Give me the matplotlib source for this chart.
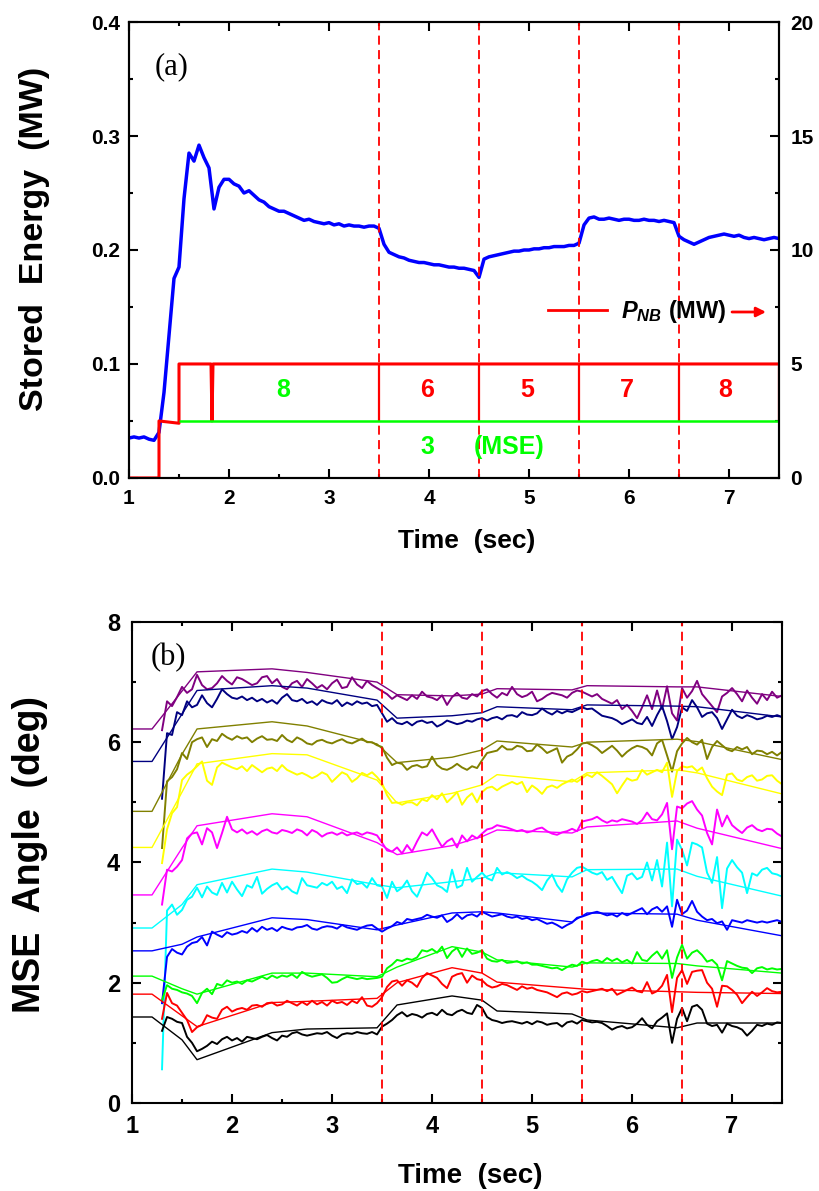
import numpy as np
import matplotlib
matplotlib.use('Agg')
import matplotlib.pyplot as plt
from matplotlib.ticker import MultipleLocator, FormatStrFormatter
from matplotlib.lines import Line2D

plt.rcParams['font.family'] = ['Liberation Sans', 'DejaVu Sans']
plt.rcParams['font.weight'] = 'bold'
plt.rcParams['mathtext.fontset'] = 'custom'
plt.rcParams['mathtext.rm'] = 'Liberation Sans:bold'
plt.rcParams['mathtext.it'] = 'Liberation Sans:italic:bold'
plt.rcParams['mathtext.bf'] = 'Liberation Sans:bold'
plt.rcParams['mathtext.bfit'] = 'Liberation Sans:italic:bold'

# ---- panel (a): stored energy and beam power ----
t_we = np.round(np.arange(1.0, 7.501, 0.05), 2)  # 50 ms samples
w_stored = [0.035, 0.036, 0.035, 0.036, 0.034, 0.033, 0.040, 0.075, 0.125, 0.175,
            0.185, 0.245, 0.285, 0.278, 0.292, 0.281, 0.272, 0.236, 0.255, 0.262,
            0.262, 0.258, 0.256, 0.250, 0.252, 0.248, 0.244, 0.242, 0.238, 0.236,
            0.234, 0.234, 0.232, 0.230, 0.228, 0.226, 0.227, 0.225, 0.224, 0.223,
            0.224, 0.222, 0.223, 0.221, 0.222, 0.221, 0.221, 0.220, 0.221, 0.221,
            0.219, 0.205, 0.198, 0.196, 0.194, 0.193, 0.191, 0.190, 0.189, 0.189,
            0.188, 0.187, 0.187, 0.186, 0.185, 0.185, 0.184, 0.184, 0.183, 0.182,
            0.176, 0.192, 0.194, 0.195, 0.196, 0.197, 0.198, 0.199, 0.199, 0.200,
            0.200, 0.201, 0.201, 0.202, 0.202, 0.203, 0.203, 0.203, 0.204, 0.204,
            0.206, 0.222, 0.228, 0.229, 0.227, 0.227, 0.228, 0.227, 0.226, 0.227,
            0.227, 0.226, 0.226, 0.227, 0.226, 0.226, 0.225, 0.226, 0.225, 0.224,
            0.212, 0.209, 0.207, 0.205, 0.207, 0.209, 0.211, 0.212, 0.213, 0.214,
            0.213, 0.212, 0.213, 0.211, 0.210, 0.211, 0.210, 0.209, 0.210, 0.211,
            0.210]

t_pnb = [1.0, 1.3, 1.3, 1.5, 1.5, 1.82, 1.83, 1.84, 7.5]
p_nb = [0, 0, 2.5, 2.4, 5, 5, 2.5, 5, 5]
mse_power = 2.5
mse_on = 1.5
box_edges = [3.5, 4.5, 5.5, 6.5, 7.5]
switch_times = [3.5, 4.5, 5.5, 6.5]
n_sources = ['8', '6', '5', '7', '8']
n_sources_t = [2.54, 3.98, 4.98, 5.98, 6.96]
n_sources_col = ['#00FF00', '#FF0000', '#FF0000', '#FF0000', '#FF0000']

# ---- panel (b): MSE pitch angles, fits and measurements ----
t_fit = [1.0, 1.2, 1.5, 1.65, 2.4, 2.75, 3.45, 3.65, 4.2, 4.5, 4.65, 5.4, 5.55, 6.45, 6.65, 7.5]
fit_purple = [6.22, 6.22, 6.85, 7.17, 7.22, 7.16, 7.00, 6.79, 6.77, 6.80, 6.89, 6.87, 6.94, 6.92, 6.92, 6.76]
fit_navy = [5.68, 5.68, 6.47, 6.86, 6.94, 6.90, 6.70, 6.40, 6.44, 6.49, 6.59, 6.54, 6.62, 6.60, 6.59, 6.42]
fit_olive = [4.85, 4.85, 5.80, 6.22, 6.34, 6.27, 5.97, 5.66, 5.75, 5.87, 6.02, 5.92, 6.00, 6.05, 6.01, 5.71]
fit_yellow = [4.25, 4.25, 5.17, 5.64, 5.81, 5.79, 5.37, 4.99, 5.15, 5.29, 5.46, 5.34, 5.49, 5.54, 5.49, 5.14]
fit_magenta = [3.46, 3.46, 4.24, 4.61, 4.81, 4.76, 4.33, 4.13, 4.28, 4.43, 4.54, 4.49, 4.59, 4.69, 4.57, 4.23]
fit_cyan = [2.91, 2.91, 3.30, 3.63, 3.89, 3.84, 3.63, 3.58, 3.68, 3.74, 3.83, 3.76, 3.88, 3.89, 3.77, 3.44]
fit_blue = [2.53, 2.53, 2.64, 2.76, 3.08, 3.05, 2.88, 2.96, 3.16, 3.18, 3.16, 3.01, 3.16, 3.14, 3.04, 2.78]
fit_green = [2.11, 2.11, 1.90, 1.81, 2.16, 2.16, 2.10, 2.26, 2.60, 2.51, 2.38, 2.26, 2.33, 2.32, 2.28, 2.16]
fit_red = [1.81, 1.81, 1.45, 1.27, 1.67, 1.69, 1.74, 2.00, 2.25, 2.16, 2.01, 1.91, 1.89, 1.85, 1.84, 1.82]
fit_black = [1.43, 1.43, 1.05, 0.72, 1.17, 1.23, 1.25, 1.63, 1.78, 1.71, 1.53, 1.48, 1.38, 1.25, 1.33, 1.33]

t_mse = np.round(np.arange(1.30, 7.501, 0.05), 2)  # 50 ms samples
mse_purple = [6.20, 6.68, 6.60, 6.75, 6.92, 6.82, 6.88, 7.12, 6.95, 6.88,
              6.90, 6.98, 7.10, 7.02, 6.96, 7.08, 7.05, 7.00, 6.95, 6.98,
              7.08, 7.10, 6.98, 7.05, 6.92, 6.88, 6.98, 7.02, 6.92, 7.05,
              6.98, 6.90, 6.95, 6.88, 6.98, 7.04, 6.90, 6.92, 7.08, 6.96,
              6.90, 7.02, 6.95, 6.90, 6.85, 6.80, 6.72, 6.78, 6.74, 6.70,
              6.78, 6.72, 6.84, 6.76, 6.74, 6.70, 6.78, 6.62, 6.75, 6.82,
              6.74, 6.72, 6.80, 6.76, 6.85, 6.88, 6.80, 6.74, 6.82, 6.78,
              6.92, 6.80, 6.75, 6.78, 6.84, 6.68, 6.72, 6.78, 6.82, 6.80,
              6.78, 6.74, 6.82, 6.86, 6.84, 6.80, 6.76, 6.80, 6.72, 6.68,
              6.64, 6.70, 6.55, 6.62, 6.52, 6.40, 6.58, 6.78, 6.55, 6.86,
              6.55, 6.93, 6.48, 6.36, 6.90, 6.74, 6.85, 7.02, 6.80, 6.70,
              6.60, 6.50, 6.76, 6.82, 6.90, 6.80, 6.68, 6.86, 6.74, 6.64,
              6.80, 6.70, 6.84, 6.74, 6.78]
mse_navy = [5.06, 6.15, 6.12, 6.50, 6.45, 6.68, 6.58, 6.62, 6.78, 6.65,
            6.58, 6.72, 6.88, 6.80, 6.74, 6.72, 6.76, 6.70, 6.74, 6.68,
            6.72, 6.66, 6.70, 6.64, 6.74, 6.80, 6.70, 6.68, 6.72, 6.65,
            6.68, 6.62, 6.70, 6.66, 6.64, 6.70, 6.60, 6.66, 6.62, 6.68,
            6.64, 6.66, 6.60, 6.62, 6.48, 6.34, 6.40, 6.32, 6.30, 6.34,
            6.28, 6.34, 6.36, 6.32, 6.34, 6.26, 6.30, 6.36, 6.33, 6.30,
            6.32, 6.36, 6.34, 6.38, 6.40, 6.36, 6.40, 6.42, 6.38, 6.44,
            6.45, 6.42, 6.50, 6.46, 6.45, 6.48, 6.56, 6.50, 6.46, 6.52,
            6.48, 6.52, 6.50, 6.54, 6.58, 6.55, 6.56, 6.50, 6.44, 6.42,
            6.40, 6.36, 6.30, 6.34, 6.38, 6.32, 6.30, 6.42, 6.27, 6.45,
            6.60, 6.35, 6.05, 6.25, 6.58, 6.52, 6.70, 6.58, 6.42, 6.48,
            6.50, 6.40, 6.22, 6.38, 6.54, 6.44, 6.40, 6.45, 6.42, 6.38,
            6.40, 6.44, 6.42, 6.45, 6.42]
mse_olive = [4.24, 5.35, 5.42, 5.55, 5.82, 5.72, 6.00, 6.05, 6.08, 5.92,
             6.05, 6.02, 6.14, 6.08, 6.04, 6.10, 6.06, 6.08, 6.00, 6.06,
             6.10, 6.04, 6.05, 6.02, 6.12, 6.04, 6.00, 6.08, 6.04, 5.98,
             5.96, 6.02, 6.04, 6.00, 5.98, 6.02, 6.05, 6.00, 5.98, 6.02,
             6.06, 6.00, 6.00, 5.95, 5.92, 5.74, 5.62, 5.66, 5.64, 5.54,
             5.60, 5.62, 5.58, 5.60, 5.76, 5.62, 5.56, 5.54, 5.58, 5.64,
             5.58, 5.54, 5.60, 5.57, 5.70, 5.82, 5.84, 5.86, 5.94, 5.88,
             5.88, 5.94, 5.92, 5.85, 5.86, 5.96, 5.90, 5.82, 5.86, 5.90,
             5.66, 5.76, 5.80, 5.88, 5.98, 5.99, 5.95, 5.90, 5.82, 5.88,
             5.94, 5.86, 5.76, 5.84, 5.90, 5.94, 5.92, 5.88, 5.78, 5.98,
             6.04, 5.78, 5.51, 5.85, 5.98, 6.07, 6.00, 5.96, 6.04, 5.72,
             5.92, 6.02, 5.95, 5.88, 5.85, 5.92, 5.88, 5.92, 5.80, 5.86,
             5.85, 5.80, 5.84, 5.78, 5.84]
mse_yellow = [3.99, 4.55, 4.82, 4.92, 5.37, 5.46, 5.52, 5.60, 5.68, 5.36,
              5.29, 5.58, 5.66, 5.62, 5.58, 5.55, 5.60, 5.52, 5.62, 5.56,
              5.50, 5.56, 5.58, 5.52, 5.62, 5.54, 5.50, 5.46, 5.49, 5.45,
              5.40, 5.44, 5.50, 5.46, 5.34, 5.42, 5.50, 5.46, 5.34, 5.40,
              5.49, 5.45, 5.50, 5.42, 5.32, 5.12, 4.99, 5.00, 4.96, 5.00,
              5.00, 4.95, 5.05, 5.02, 5.12, 5.05, 5.15, 5.00, 5.08, 5.17,
              4.96, 5.08, 5.15, 5.00, 5.17, 5.24, 5.26, 5.20, 5.26, 5.30,
              5.34, 5.30, 5.34, 5.17, 5.28, 5.22, 5.14, 5.25, 5.28, 5.24,
              5.30, 5.34, 5.38, 5.34, 5.40, 5.46, 5.42, 5.50, 5.44, 5.37,
              5.30, 5.15, 5.28, 5.40, 5.36, 5.38, 5.54, 5.46, 5.50, 5.54,
              5.50, 5.66, 5.09, 5.52, 5.60, 5.58, 5.60, 5.52, 5.58, 5.40,
              5.26, 5.18, 5.12, 5.46, 5.48, 5.38, 5.35, 5.42, 5.45, 5.36,
              5.38, 5.44, 5.45, 5.36, 5.30]
mse_magenta = [3.30, 3.88, 3.85, 3.93, 4.04, 4.40, 4.48, 4.50, 4.30, 4.57,
               4.50, 4.24, 4.49, 4.76, 4.55, 4.50, 4.55, 4.48, 4.52, 4.46,
               4.52, 4.55, 4.50, 4.48, 4.54, 4.52, 4.49, 4.55, 4.52, 4.45,
               4.54, 4.50, 4.43, 4.48, 4.50, 4.46, 4.50, 4.45, 4.48, 4.50,
               4.46, 4.50, 4.48, 4.45, 4.33, 4.20, 4.18, 4.25, 4.15, 4.29,
               4.18, 4.35, 4.50, 4.45, 4.55, 4.40, 4.26, 4.35, 4.40, 4.25,
               4.45, 4.35, 4.45, 4.40, 4.48, 4.55, 4.57, 4.62, 4.60, 4.58,
               4.55, 4.52, 4.54, 4.50, 4.52, 4.56, 4.58, 4.52, 4.48, 4.46,
               4.50, 4.52, 4.56, 4.52, 4.68, 4.70, 4.72, 4.76, 4.70, 4.66,
               4.70, 4.68, 4.72, 4.70, 4.68, 4.64, 4.70, 4.83, 4.72, 4.70,
               4.80, 4.99, 4.22, 4.93, 4.90, 4.98, 5.02, 4.88, 4.78, 4.49,
               4.30, 4.88, 4.60, 4.78, 4.62, 4.55, 4.49, 4.58, 4.62, 4.55,
               4.52, 4.56, 4.55, 4.48, 4.43]
mse_cyan = [0.56, 3.20, 3.30, 3.13, 3.21, 3.38, 3.43, 3.58, 3.42, 3.60,
            3.50, 3.46, 3.66, 3.50, 3.68, 3.55, 3.44, 3.62, 3.58, 3.76,
            3.48, 3.56, 3.62, 3.66, 3.55, 3.60, 3.52, 3.48, 3.74, 3.62,
            3.60, 3.58, 3.66, 3.62, 3.68, 3.56, 3.60, 3.49, 3.72, 3.64,
            3.66, 3.58, 3.74, 3.62, 3.60, 3.41, 3.68, 3.52, 3.58, 3.70,
            3.52, 3.43, 3.62, 3.83, 3.74, 3.62, 3.58, 3.51, 3.88, 3.58,
            3.62, 3.91, 3.68, 3.76, 3.83, 3.74, 3.70, 3.91, 3.80, 3.84,
            3.80, 3.74, 3.78, 3.72, 3.68, 3.62, 3.54, 3.70, 3.80, 3.62,
            3.51, 3.72, 3.83, 3.91, 3.93, 3.88, 3.83, 3.80, 3.84, 3.71,
            3.76, 3.62, 3.49, 3.78, 3.82, 3.72, 3.76, 4.00, 3.70, 4.04,
            3.60, 4.33, 3.27, 4.38, 4.21, 3.95, 4.33, 4.30, 4.25, 3.83,
            3.66, 4.09, 3.24, 3.90, 4.04, 3.92, 3.83, 3.49, 3.82, 3.78,
            3.88, 3.91, 3.82, 3.80, 3.76]
mse_blue = [1.66, 2.43, 2.56, 2.50, 2.47, 2.60, 2.66, 2.68, 2.76, 2.62,
            2.85, 2.80, 2.76, 2.84, 2.80, 2.82, 2.86, 2.83, 2.91, 2.85,
            2.93, 2.88, 2.91, 2.86, 2.93, 2.90, 2.88, 2.92, 2.93, 2.96,
            2.90, 2.88, 2.92, 2.94, 2.93, 2.90, 2.96, 2.92, 2.90, 2.88,
            2.92, 2.95, 2.96, 2.90, 2.85, 2.90, 2.94, 3.01, 2.98, 3.06,
            3.04, 3.06, 3.08, 3.13, 3.10, 3.08, 3.12, 3.01, 3.06, 3.14,
            3.06, 3.12, 3.14, 3.10, 3.18, 3.14, 3.10, 3.12, 3.14, 3.10,
            3.08, 3.10, 3.06, 3.08, 3.04, 3.06, 3.02, 2.98, 3.00, 2.96,
            2.91, 2.96, 3.00, 3.08, 3.10, 3.13, 3.16, 3.18, 3.15, 3.12,
            3.14, 3.10, 3.16, 3.12, 3.16, 3.20, 3.24, 3.14, 3.22, 3.26,
            3.18, 3.27, 2.93, 3.38, 3.14, 3.20, 3.36, 3.18, 3.10, 3.04,
            3.06, 2.99, 3.02, 2.88, 3.04, 3.02, 3.00, 3.04, 3.02, 3.00,
            3.02, 3.00, 3.02, 3.04, 3.01]
mse_green = [1.71, 1.96, 1.90, 1.88, 1.84, 1.82, 1.78, 1.66, 1.83, 1.90,
             1.81, 1.98, 1.95, 2.04, 2.00, 2.02, 1.98, 2.04, 2.02, 2.06,
             2.10, 2.06, 2.12, 2.08, 2.12, 2.10, 2.14, 2.08, 2.18, 2.13,
             2.10, 2.12, 2.14, 2.08, 2.00, 2.01, 2.06, 2.10, 2.08, 2.06,
             2.08, 2.06, 2.07, 2.08, 2.10, 2.24, 2.30, 2.38, 2.36, 2.40,
             2.38, 2.42, 2.54, 2.52, 2.56, 2.50, 2.60, 2.41, 2.52, 2.58,
             2.43, 2.57, 2.48, 2.50, 2.54, 2.40, 2.36, 2.35, 2.38, 2.33,
             2.34, 2.36, 2.32, 2.34, 2.30, 2.30, 2.28, 2.26, 2.24, 2.25,
             2.21, 2.26, 2.30, 2.28, 2.35, 2.32, 2.36, 2.38, 2.34, 2.41,
             2.36, 2.40, 2.34, 2.38, 2.32, 2.51, 2.38, 2.36, 2.45, 2.52,
             2.40, 2.54, 2.08, 2.42, 2.63, 2.40, 2.50, 2.54, 2.46, 2.35,
             2.38, 2.30, 2.04, 2.36, 2.32, 2.28, 2.25, 2.24, 2.16, 2.24,
             2.26, 2.22, 2.24, 2.22, 2.23]
mse_red = [1.40, 1.83, 1.66, 1.62, 1.50, 1.38, 1.18, 1.26, 1.30, 1.46,
           1.42, 1.40, 1.55, 1.60, 1.52, 1.56, 1.58, 1.55, 1.62, 1.63,
           1.60, 1.66, 1.67, 1.62, 1.64, 1.70, 1.66, 1.62, 1.68, 1.63,
           1.70, 1.64, 1.68, 1.62, 1.70, 1.66, 1.68, 1.63, 1.70, 1.66,
           1.76, 1.62, 1.60, 1.66, 1.76, 1.93, 2.02, 2.04, 1.95, 2.04,
           2.00, 1.93, 2.08, 2.16, 2.12, 2.08, 1.98, 1.91, 2.10, 2.14,
           2.16, 2.00, 2.12, 2.06, 2.04, 1.96, 1.92, 1.94, 1.98, 1.96,
           1.92, 1.88, 1.94, 1.90, 1.92, 1.88, 1.86, 1.84, 1.80, 1.76,
           1.82, 1.84, 1.80, 1.82, 1.86, 1.84, 1.86, 1.88, 1.90, 1.86,
           1.90, 1.80, 1.84, 1.88, 1.92, 1.86, 1.84, 2.01, 1.82, 1.86,
           1.95, 2.13, 1.51, 2.08, 2.21, 1.98, 2.18, 2.20, 2.21, 2.00,
           1.90, 1.60, 1.95, 1.94, 1.88, 1.80, 1.66, 1.76, 1.85, 1.78,
           1.84, 1.91, 1.86, 1.84, 1.85]
mse_black = [1.20, 1.43, 1.40, 1.35, 1.33, 1.10, 1.00, 0.86, 0.90, 0.95,
             1.02, 0.98, 1.06, 1.10, 1.04, 1.08, 1.02, 1.10, 1.08, 1.06,
             1.10, 1.13, 1.08, 1.04, 1.12, 1.10, 1.16, 1.18, 1.14, 1.12,
             1.14, 1.16, 1.15, 1.18, 1.12, 1.08, 1.14, 1.16, 1.15, 1.18,
             1.16, 1.15, 1.18, 1.14, 1.27, 1.32, 1.38, 1.46, 1.51, 1.44,
             1.48, 1.46, 1.42, 1.48, 1.50, 1.46, 1.55, 1.48, 1.46, 1.52,
             1.55, 1.50, 1.48, 1.63, 1.58, 1.43, 1.38, 1.36, 1.33, 1.35,
             1.36, 1.34, 1.32, 1.35, 1.31, 1.36, 1.34, 1.30, 1.32, 1.33,
             1.27, 1.34, 1.36, 1.32, 1.38, 1.36, 1.34, 1.35, 1.33, 1.28,
             1.22, 1.26, 1.28, 1.24, 1.26, 1.32, 1.41, 1.30, 1.24, 1.36,
             1.42, 1.49, 1.00, 1.40, 1.58, 1.36, 1.60, 1.63, 1.55, 1.32,
             1.28, 1.30, 1.17, 1.32, 1.28, 1.26, 1.22, 1.12, 1.20, 1.30,
             1.28, 1.32, 1.30, 1.34, 1.33]

channels = [('#800080', fit_purple, mse_purple),
            ('#000080', fit_navy, mse_navy),
            ('#808000', fit_olive, mse_olive),
            ('#FFFF00', fit_yellow, mse_yellow),
            ('#FF00FF', fit_magenta, mse_magenta),
            ('#00FFFF', fit_cyan, mse_cyan),
            ('#0000FF', fit_blue, mse_blue),
            ('#00FF00', fit_green, mse_green),
            ('#FF0000', fit_red, mse_red),
            ('#000000', fit_black, mse_black)]

dash = (0, (5, 3))
fig = plt.figure(figsize=(8.19, 11.91), dpi=100)

# ================= (a) =================
ax1 = fig.add_axes([0.1575, 0.5987, 0.7937, 0.3828])
ax2 = ax1.twinx()
ax1.plot(t_we, w_stored, color='#0000FF', lw=2.5)
for t in switch_times:
    ax1.axvline(t, color='#FF0000', ls=dash, lw=1.3)
ax2.plot(t_pnb, p_nb, color='#FF0000', lw=2.2)
ax2.vlines(box_edges, mse_power, 5, color='#FF0000', lw=1.6)
ax2.hlines(mse_power, mse_on, 7.5, color='#00FF00', lw=1.8)

for s, t, c in zip(n_sources, n_sources_t, n_sources_col):
    ax2.text(t, 3.86, s, color=c, fontsize=18, ha='center', va='center')
ax2.text(3.98, 1.36, '3', color='#00FF00', fontsize=18, ha='center', va='center')
ax2.text(4.80, 1.36, '(MSE)', color='#00FF00', fontsize=18, ha='center', va='center')

h = Line2D([], [], color='#FF0000', lw=2)
ax2.legend([h], [r'$\mathbfit{P}_{\mathbfit{NB}}$ (MW)'], loc='center left',
           bbox_to_anchor=(0.645, 0.364), frameon=False, fontsize=17,
           handlelength=2.5, handletextpad=0.6, borderpad=0, borderaxespad=0)
ax2.annotate('', xy=(7.37, 7.28), xytext=(7.03, 7.28),
             arrowprops=dict(arrowstyle='-|>', color='#FF0000', lw=2,
                             mutation_scale=14, shrinkA=0, shrinkB=0))

ax1.set_xlim(1, 7.5)
ax1.set_ylim(0, 0.4)
ax2.set_ylim(0, 20)
ax1.xaxis.set_major_locator(MultipleLocator(1))
ax1.xaxis.set_minor_locator(MultipleLocator(0.5))
ax1.yaxis.set_major_locator(MultipleLocator(0.1))
ax1.yaxis.set_minor_locator(MultipleLocator(0.05))
ax1.yaxis.set_major_formatter(FormatStrFormatter('%.1f'))
ax2.yaxis.set_major_locator(MultipleLocator(5))
ax2.yaxis.set_minor_locator(MultipleLocator(2.5))
ax1.tick_params(which='both', direction='in', top=True, right=False, width=1.5, labelsize=15)
ax1.tick_params(axis='x', which='major', pad=8)
ax1.tick_params(axis='y', which='major', pad=6.5)
ax1.tick_params(which='major', length=6.5)
ax1.tick_params(which='minor', length=3)
ax2.tick_params(which='both', direction='in', width=1.5, labelsize=15)
ax2.tick_params(which='major', length=6.5, pad=8)
ax2.tick_params(which='minor', length=3)
for sp in ax1.spines.values():
    sp.set_linewidth(1.5)
for sp in ax2.spines.values():
    sp.set_linewidth(1.5)

ax1.set_xlabel('Time  (sec)', fontsize=19, fontweight='bold', va='center')
ax1.xaxis.set_label_coords(0.52, -0.138)
ax1.set_ylabel('Stored  Energy  (MW)', fontsize=24.5, fontweight='bold', va='center')
ax1.yaxis.set_label_coords(-0.145, 0.524)
ax1.text(0.04, 0.903, '(a)', transform=ax1.transAxes, fontsize=22, fontweight='normal',
         family=['Liberation Serif', 'DejaVu Serif'], va='center')

# ================= (b) =================
ax3 = fig.add_axes([0.1612, 0.0739, 0.7937, 0.4039])
for c, fit, meas in channels:
    ax3.plot(t_fit, fit, color=c, lw=1.0)
    ax3.plot(t_mse, meas, color=c, lw=1.4)
for t in switch_times:
    ax3.axvline(t, color='#FF0000', ls=dash, lw=1.3)

ax3.set_xlim(1, 7.5)
ax3.set_ylim(0, 8)
ax3.xaxis.set_major_locator(MultipleLocator(1))
ax3.xaxis.set_minor_locator(MultipleLocator(0.5))
ax3.yaxis.set_major_locator(MultipleLocator(2))
ax3.yaxis.set_minor_locator(MultipleLocator(1))
ax3.tick_params(which='both', direction='in', top=True, right=True, width=1.5, labelsize=17)
ax3.tick_params(which='major', length=6.5, pad=8.5)
ax3.tick_params(which='minor', length=3)
for sp in ax3.spines.values():
    sp.set_linewidth(1.5)

ax3.set_xlabel('Time  (sec)', fontsize=20, fontweight='bold', va='center')
ax3.xaxis.set_label_coords(0.52, -0.152)
ax3.set_ylabel('MSE  Angle  (deg)', fontsize=27, fontweight='bold', va='center')
ax3.yaxis.set_label_coords(-0.157, 0.516)
ax3.text(0.028, 0.925, '(b)', transform=ax3.transAxes, fontsize=22, fontweight='normal',
         family=['Liberation Serif', 'DejaVu Serif'], va='center')

fig.savefig('out.png', dpi=100, facecolor='w')
